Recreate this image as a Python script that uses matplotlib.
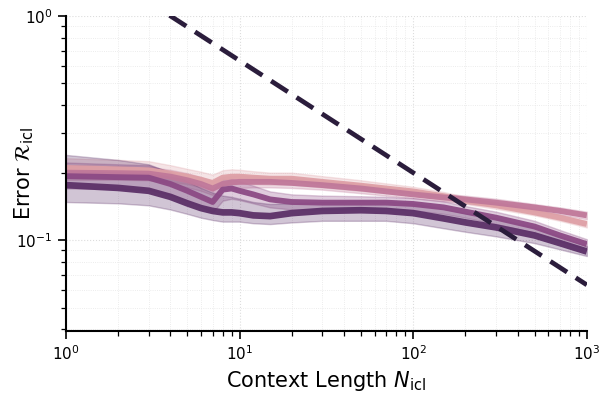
import matplotlib
matplotlib.use("Agg")
import matplotlib.pyplot as plt

X = [1, 2, 3, 4, 5, 6, 7, 8, 9, 10, 12, 15, 20, 30, 50, 70, 100, 150, 200, 300, 500, 700, 1000]

s1_mean = [0.210, 0.207, 0.205, 0.198, 0.192, 0.186, 0.180, 0.190, 0.192, 0.192, 0.190, 0.188, 0.188, 0.182, 0.175, 0.170, 0.165, 0.157, 0.150, 0.143, 0.133, 0.126, 0.118]
s1_lo = [0.190, 0.188, 0.186, 0.182, 0.178, 0.172, 0.166, 0.176, 0.179, 0.180, 0.178, 0.177, 0.177, 0.172, 0.166, 0.162, 0.158, 0.151, 0.145, 0.138, 0.129, 0.122, 0.114]
s1_hi = [0.232, 0.228, 0.225, 0.216, 0.208, 0.202, 0.196, 0.205, 0.207, 0.206, 0.203, 0.200, 0.200, 0.193, 0.185, 0.179, 0.173, 0.164, 0.156, 0.148, 0.138, 0.130, 0.122]

s2_mean = [0.200, 0.199, 0.198, 0.192, 0.185, 0.178, 0.170, 0.178, 0.181, 0.182, 0.182, 0.182, 0.180, 0.176, 0.170, 0.165, 0.160, 0.155, 0.152, 0.147, 0.140, 0.135, 0.129]
s2_lo = [0.186, 0.186, 0.185, 0.179, 0.172, 0.166, 0.159, 0.166, 0.170, 0.171, 0.172, 0.172, 0.171, 0.168, 0.162, 0.158, 0.154, 0.149, 0.146, 0.141, 0.135, 0.130, 0.124]
s2_hi = [0.216, 0.214, 0.212, 0.206, 0.199, 0.191, 0.183, 0.191, 0.193, 0.194, 0.193, 0.193, 0.190, 0.185, 0.178, 0.172, 0.167, 0.161, 0.158, 0.153, 0.145, 0.140, 0.134]

s3_mean = [0.193, 0.191, 0.190, 0.178, 0.166, 0.156, 0.148, 0.168, 0.170, 0.166, 0.160, 0.152, 0.148, 0.147, 0.147, 0.147, 0.145, 0.140, 0.134, 0.126, 0.115, 0.105, 0.096]
s3_lo = [0.170, 0.169, 0.168, 0.159, 0.150, 0.141, 0.133, 0.150, 0.153, 0.151, 0.146, 0.140, 0.137, 0.137, 0.138, 0.138, 0.136, 0.131, 0.126, 0.118, 0.108, 0.099, 0.091]
s3_hi = [0.222, 0.218, 0.216, 0.202, 0.188, 0.176, 0.167, 0.187, 0.188, 0.183, 0.175, 0.165, 0.160, 0.158, 0.157, 0.156, 0.154, 0.149, 0.142, 0.134, 0.122, 0.111, 0.101]

s4_mean = [0.176, 0.171, 0.166, 0.156, 0.146, 0.139, 0.135, 0.133, 0.133, 0.132, 0.129, 0.128, 0.132, 0.135, 0.136, 0.135, 0.132, 0.125, 0.120, 0.114, 0.105, 0.097, 0.089]
s4_lo = [0.148, 0.146, 0.143, 0.137, 0.131, 0.126, 0.123, 0.121, 0.121, 0.121, 0.119, 0.118, 0.120, 0.122, 0.122, 0.122, 0.119, 0.113, 0.109, 0.104, 0.097, 0.091, 0.085]
s4_hi = [0.240, 0.228, 0.218, 0.200, 0.183, 0.171, 0.163, 0.158, 0.156, 0.153, 0.148, 0.145, 0.146, 0.148, 0.150, 0.149, 0.146, 0.138, 0.132, 0.125, 0.114, 0.104, 0.094]

ref_x = [1, 1000]
ref_y = [2.0, 0.0632]

series = [
    (s1_mean, s1_lo, s1_hi, "#dea0a6", 4.2),
    (s2_mean, s2_lo, s2_hi, "#c0789a", 4.2),
    (s3_mean, s3_lo, s3_hi, "#8c4a85", 4.2),
    (s4_mean, s4_lo, s4_hi, "#5c3068", 4.8),
]

fig = plt.figure(figsize=(6.10, 3.98), dpi=100)
ax = fig.add_axes([0.108, 0.168, 0.854, 0.792])

for mean, lo, hi, c, lw in series:
    ax.fill_between(X, lo, hi, color=c, alpha=0.28, linewidth=1.0, edgecolor=c)
for mean, lo, hi, c, lw in series:
    ax.plot(X, mean, color=c, lw=lw, alpha=0.95, solid_capstyle="butt")

ax.plot(ref_x, ref_y, color="#2b1d3c", lw=3.4, linestyle=(0, (4.2, 2.2)))

ax.set_xscale("log")
ax.set_yscale("log")
ax.set_xlim(1, 1000)
ax.set_ylim(0.0393, 1.0)

ax.grid(True, which="major", color="#dddddd", linestyle=":", linewidth=0.8)
ax.grid(True, which="minor", color="#e6e6e6", linestyle=":", linewidth=0.6)
ax.set_axisbelow(True)

for s in ["top", "right"]:
    ax.spines[s].set_visible(False)
ax.spines["left"].set_linewidth(1.5)
ax.spines["bottom"].set_linewidth(1.5)
ax.tick_params(which="major", length=6, width=1.2, labelsize=11)
ax.tick_params(which="minor", length=3.5, width=0.9)

ax.set_xlabel(r"Context Length $N_{\rm icl}$", fontsize=15)
ax.set_ylabel(r"Error $\mathcal{R}_{\rm icl}$", fontsize=15)
ax.yaxis.set_label_coords(-0.058, 0.5)

fig.savefig("out.png", dpi=100)
